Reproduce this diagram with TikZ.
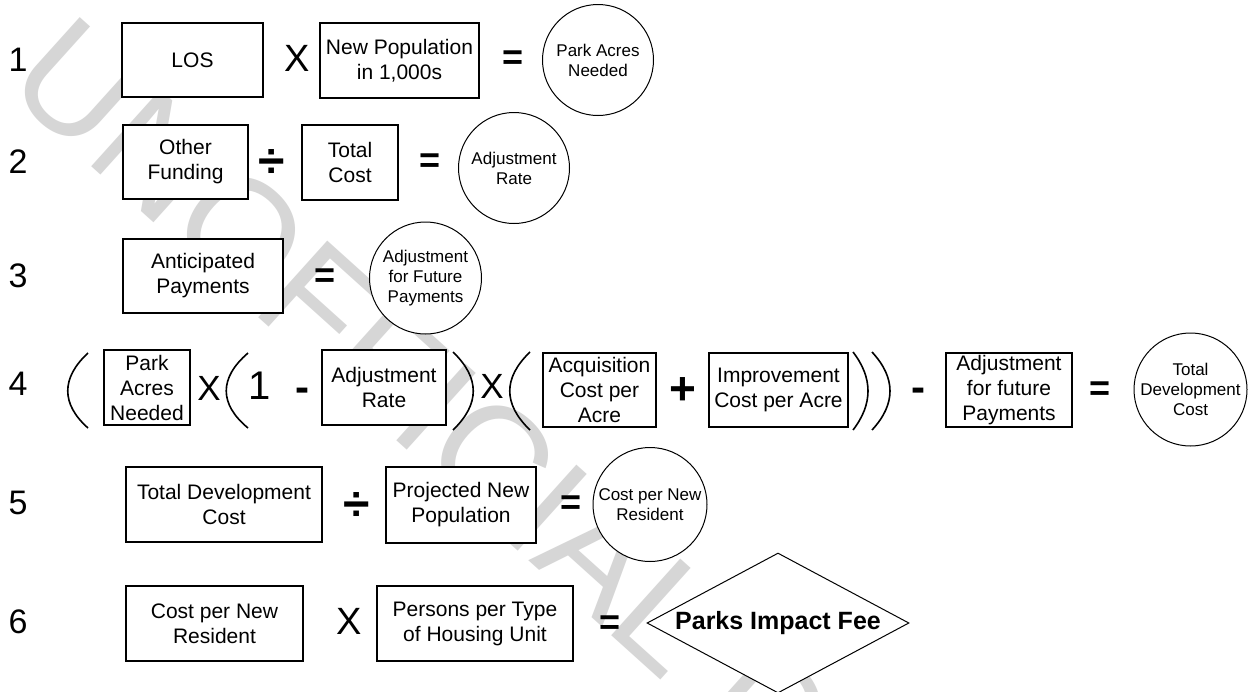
\documentclass[tikz,border=0pt]{standalone}
\usepackage{fontspec}
\setmainfont{Liberation Sans}
\usetikzlibrary{shapes.geometric}
\begin{document}
\begin{tikzpicture}[x=1pt,y=-1pt,
  bx/.style={draw,line width=1.2pt,fill=white,inner sep=0pt,align=center,font=\fontsize{21}{25}\selectfont},
  circ/.style={draw,circle,line width=1pt,fill=white,inner sep=0pt,align=center,font=\fontsize{17}{20}\selectfont},
  num/.style={font=\fontsize{34}{34}\selectfont,inner sep=0pt,anchor=base},
  op/.style={font=\fontsize{38}{38}\selectfont,inner sep=0pt,anchor=base},
  bop/.style={font=\bfseries\fontsize{48}{48}\selectfont,inner sep=0pt,anchor=base},
  eq/.style={font=\bfseries\fontsize{36}{36}\selectfont,inner sep=0pt,anchor=base},
  paren/.style={line width=1.6pt}]
\useasboundingbox (0,0) rectangle (1252,691);
\fill[white] (0,0) rectangle (1252,691);
\begin{scope}
\clip (0,0) rectangle (1252,691);
\node[rotate=-42,anchor=base west,text=black!16,font=\fontsize{150}{150}\selectfont,inner sep=0pt] (wm) at (2,86) {UNOFFICIAL DRAFT};
\end{scope}
% row numbers
\node[num] (n1) at (18,71.2) {1};
\node[num] (n2) at (18,173.2) {2};
\node[num] (n3) at (18,287.2) {3};
\node[num] (n4) at (18,395.2) {4};
\node[num] (n5) at (18,514.2) {5};
\node[num] (n6) at (18,633.2) {6};
% row 1
\node[bx,minimum width=141,minimum height=74] (los) at (192.5,60) {LOS};
\node[op] (x1) at (297,71.6) {X};
\node[bx,minimum width=159,minimum height=75] (newpop) at (399.5,60.5) {New Population\\in 1,000s};
\node[eq] (e1) at (513,69.6) {=};
\node[circ,minimum size=111] (c1) at (598,60) {Park Acres\\Needed};
% row 2
\node[bx,minimum width=125,minimum height=74] (ofund) at (185.5,162) {Other\\Funding};
\node[bop] (d2) at (272,177) {÷};
\node[bx,minimum width=96,minimum height=75] (tcost) at (350,162.5) {Total\\Cost};
\node[eq] (e2) at (430,172.6) {=};
\node[circ,minimum size=111] (c2) at (514,168) {Adjustment\\Rate};
% row 3
\node[bx,minimum width=160,minimum height=74] (antp) at (203,276) {Anticipated\\Payments};
\node[eq] (e3) at (325,287.6) {=};
\node[circ,minimum size=112] (c3) at (425.5,278) {Adjustment\\for Future\\Payments};
% row 4
\draw[paren] (88,353) .. controls (61,378) and (61,404) .. (88,428);
\node[bx,minimum width=86,minimum height=75] (pan) at (147,387.5) {Park\\Acres\\Needed};
\node[op,font=\fontsize{35}{35}\selectfont] (x4a) at (209,400.5) {X};
\draw[paren] (248,353) .. controls (219,378) and (219,404) .. (248,428);
\node[op,font=\fontsize{40}{40}\selectfont] (one) at (260,399.3) {1};
\node[bop,font=\bfseries\fontsize{42}{42}\selectfont] (m4a) at (302,401.8) {-};
\node[bx,minimum width=124,minimum height=75] (arate) at (384,387.5) {Adjustment\\Rate};
\draw[paren] (453,352) .. controls (480,378) and (480,404) .. (453,430);
\node[op,font=\fontsize{35}{35}\selectfont] (x4b) at (492,398.5) {X};
\draw[paren] (530,352) .. controls (503,378) and (503,404) .. (530,430);
\node[bx,minimum width=113,minimum height=74] (acq) at (599.5,390) {Acquisition\\Cost per\\Acre};
\node[bop,font=\bfseries\fontsize{46}{46}\selectfont] (p4) at (683,404.5) {+};
\node[bx,minimum width=139,minimum height=74] (impr) at (778.5,390) {Improvement\\Cost per Acre};
\draw[paren] (853,352) .. controls (873,378) and (873,404) .. (853,430);
\draw[paren] (872,352) .. controls (896,378) and (896,404) .. (872,430);
\node[bop,font=\bfseries\fontsize{42}{42}\selectfont] (m4b) at (918,401.8) {-};
\node[bx,minimum width=126,minimum height=74] (affp) at (1009,390) {Adjustment\\for future\\Payments};
\node[eq] (e4) at (1100,400.6) {=};
\node[circ,minimum size=113] (c4) at (1190.5,389.5) {Total\\Development\\Cost};
% row 5
\node[bx,minimum width=196,minimum height=75] (tdc) at (224,504.5) {Total Development\\Cost};
\node[bop] (d5) at (357,520) {÷};
\node[bx,minimum width=150,minimum height=76] (pnp) at (461,505) {Projected New\\Population};
\node[eq] (e5) at (571,514.6) {=};
\node[circ,minimum size=114] (c5) at (650,504.5) {Cost per New\\Resident};
% row 6
\node[bx,minimum width=177,minimum height=75] (cpnr) at (214.5,623.5) {Cost per New\\Resident};
\node[op] (x6) at (349,634.6) {X};
\node[bx,minimum width=196,minimum height=75] (ppt) at (475,623.5) {Persons per Type\\of Housing Unit};
\node[eq] (e6) at (610,634.6) {=};
\node[diamond,draw,line width=1pt,fill=white,shape aspect=1.87,minimum width=262,minimum height=140,inner sep=0pt,font=\bfseries\fontsize{25}{25}\selectfont] (fee) at (778,623) {Parks Impact Fee};
\end{tikzpicture}
\end{document}
